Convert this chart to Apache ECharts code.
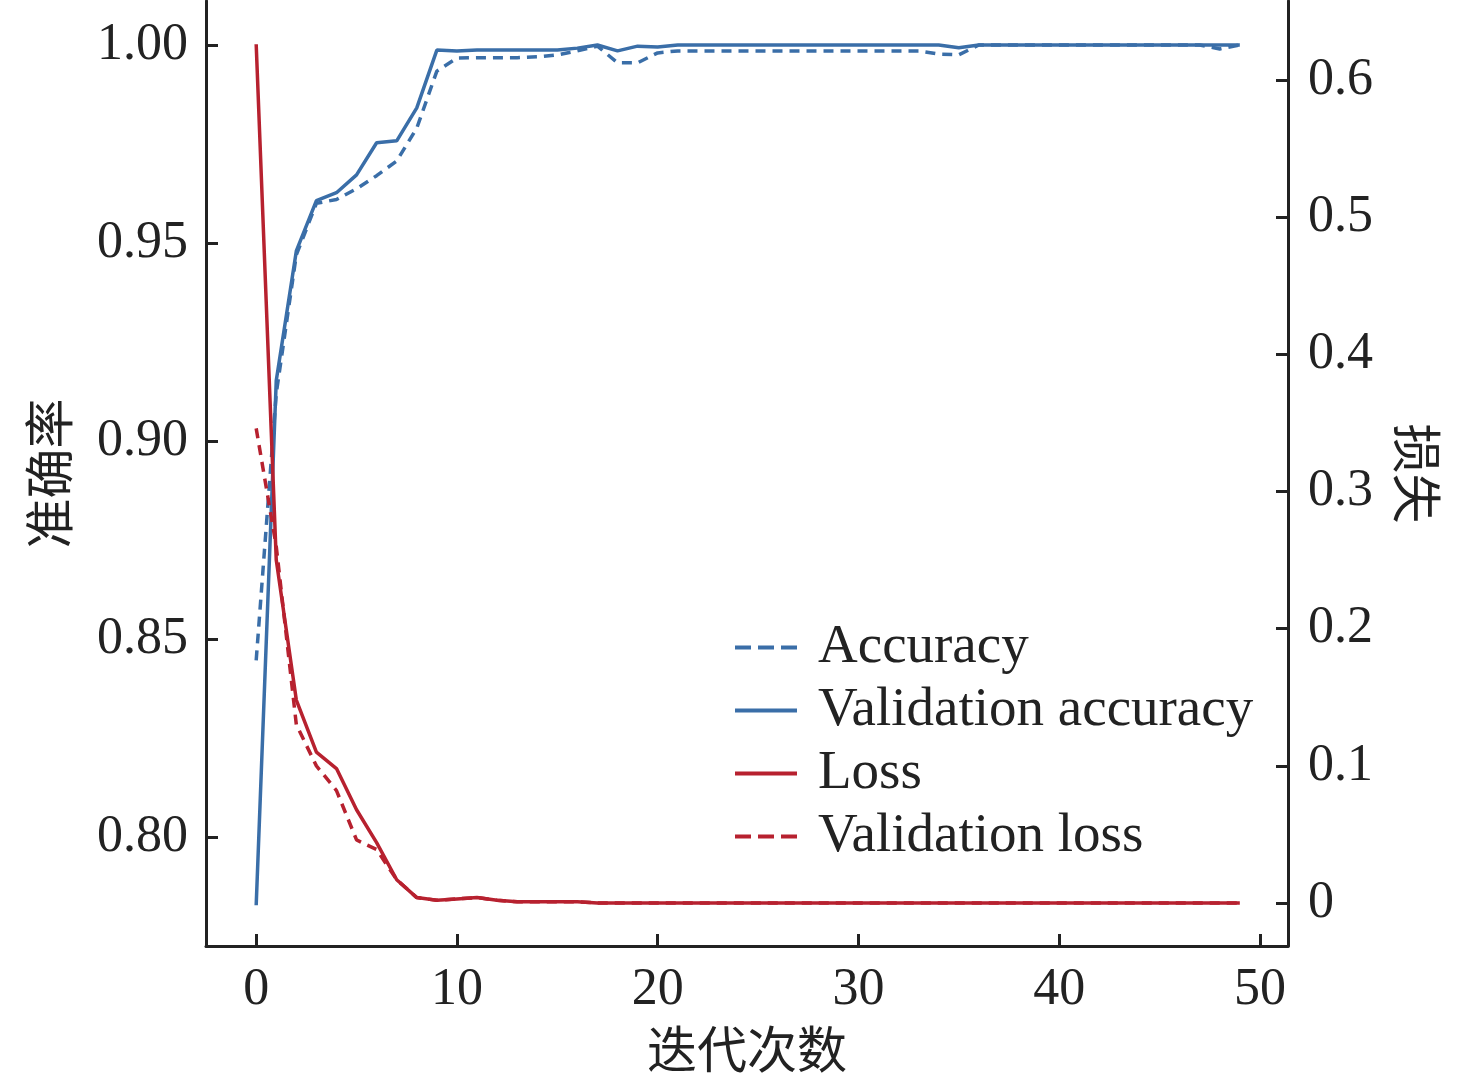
<!DOCTYPE html>
<html>
<head>
<meta charset="utf-8">
<script src="https://cdn.jsdelivr.net/npm/echarts@6/dist/echarts.min.js"></script>
<style>html,body{margin:0;padding:0;background:#fff}#chart{width:1476px;height:1089px}</style>
</head>
<body>
<div id="chart"></div>
<script>
var epochs = [];
for (var i = 0; i < 50; i++) epochs.push(i);

var accuracy = [0.8446, 0.912, 0.947, 0.960, 0.961, 0.9637, 0.967, 0.9707, 0.979, 0.9934,
  0.9967, 0.9968, 0.9968, 0.9968, 0.9970, 0.9975, 0.9985, 0.9997, 0.9955, 0.9955,
  0.998, 0.9985, 0.9985, 0.9985, 0.9985, 0.9985, 0.9985, 0.9985, 0.9985, 0.9985,
  0.9985, 0.9985, 0.9985, 0.9985, 0.9977, 0.9975, 1.0, 1.0, 1.0, 1.0,
  1.0, 1.0, 1.0, 1.0, 1.0, 1.0, 1.0, 1.0, 0.999, 1.0];
var valAccuracy = [0.7828, 0.9153, 0.948, 0.9607, 0.9627, 0.9672, 0.9753, 0.9758, 0.9841, 0.9987,
  0.9985, 0.9987, 0.9987, 0.9987, 0.9987, 0.9987, 0.9992, 1.0, 0.9985, 0.9997,
  0.9995, 1.0, 1.0, 1.0, 1.0, 1.0, 1.0, 1.0, 1.0, 1.0,
  1.0, 1.0, 1.0, 1.0, 1.0, 0.9993, 1.0, 1.0, 1.0, 1.0,
  1.0, 1.0, 1.0, 1.0, 1.0, 1.0, 1.0, 1.0, 1.0, 1.0];
var loss = [0.626, 0.25, 0.148, 0.110, 0.098, 0.068, 0.044, 0.017, 0.004, 0.002,
  0.003, 0.004, 0.002, 0.001, 0.001, 0.001, 0.001, 0.0, 0.0, 0.0,
  0, 0, 0, 0, 0, 0, 0, 0, 0, 0, 0, 0, 0, 0, 0, 0, 0, 0, 0, 0,
  0, 0, 0, 0, 0, 0, 0, 0, 0, 0];
var valLoss = [0.346, 0.26, 0.13, 0.10, 0.082, 0.046, 0.039, 0.017, 0.004, 0.002,
  0.003, 0.004, 0.002, 0.001, 0.001, 0.001, 0.001, 0.0, 0.0, 0.0,
  0, 0, 0, 0, 0, 0, 0, 0, 0, 0, 0, 0, 0, 0, 0, 0, 0, 0, 0, 0,
  0, 0, 0, 0, 0, 0, 0, 0, 0, 0];

var xTicks = [0, 10, 20, 30, 40, 50];
var accTicks = [0.80, 0.85, 0.90, 0.95, 1.00];
var lossTicks = [0, 0.1, 0.2, 0.3, 0.4, 0.5, 0.6];

var BLUE = '#3a6ea8', RED = '#b7212f';
var FONT = 'Liberation Serif';
var CJK = 'Noto Sans CJK SC';
// legend icons: a solid bar and a three-dash bar
var SOLID_ICON = 'path://M0,0h62v4h-62z';
var DASH_ICON = 'path://M0,0h16v4h-16z M23,0h16v4h-16z M46,0h16v4h-16z';

function pairs(ys) { return epochs.map(function (x, i) { return [x, ys[i]]; }); }

function line(name, ys, color, dashed, yIdx) {
  return {
    name: name, type: 'line', yAxisIndex: yIdx, data: pairs(ys),
    symbol: 'none', showSymbol: false, animation: false,
    lineStyle: { color: color, width: 3.5, type: dashed ? [10, 7] : 'solid' },
    itemStyle: { color: color }
  };
}

var axisBase = {
  axisLine: { show: true, onZero: false, lineStyle: { color: '#222', width: 3 } },
  axisTick: { show: true, inside: true, length: 12, lineStyle: { color: '#222', width: 3 } },
  splitLine: { show: false },
  axisLabel: { color: '#222', fontFamily: FONT, fontSize: 52 }
};

var chart = echarts.init(document.getElementById('chart'));
chart.setOption({
  backgroundColor: '#fff',
  grid: { left: 206, right: 188, top: 1, bottom: 143 },
  legend: {
    orient: 'vertical', left: 730, top: 614, itemWidth: 62, itemHeight: 4, itemGap: 6,
    textStyle: { fontFamily: FONT, fontSize: 55, color: '#222', lineHeight: 57, padding: [0, 0, 0, 16] },
    data: [
      { name: 'Accuracy', icon: DASH_ICON },
      { name: 'Validation accuracy', icon: SOLID_ICON },
      { name: 'Loss', icon: SOLID_ICON },
      { name: 'Validation loss', icon: DASH_ICON }
    ]
  },
  xAxis: Object.assign({}, axisBase, {
    type: 'value', min: -2.5, max: 51.4,
    name: '迭代次数', nameLocation: 'middle', nameGap: 78,
    nameTextStyle: { fontFamily: CJK, fontSize: 50, color: '#222' },
    axisTick: Object.assign({}, axisBase.axisTick, { customValues: xTicks }),
    axisLabel: Object.assign({}, axisBase.axisLabel, { customValues: xTicks, margin: 18 })
  }),
  yAxis: [
    Object.assign({}, axisBase, {
      type: 'value', min: 0.7725, max: 1.0111, position: 'left',
      name: '准确率', nameLocation: 'middle', nameGap: 132, nameRotate: 90,
      nameTextStyle: { fontFamily: CJK, fontSize: 50, color: '#222' },
      axisTick: Object.assign({}, axisBase.axisTick, { customValues: accTicks }),
      axisLabel: Object.assign({}, axisBase.axisLabel, {
        customValues: accTicks, margin: 18,
        formatter: function (v) { return v.toFixed(2); }
      })
    }),
    Object.assign({}, axisBase, {
      type: 'value', min: -0.0313, max: 0.6575, position: 'right',
      name: '损失', nameLocation: 'middle', nameGap: 104, nameRotate: -90,
      nameTextStyle: { fontFamily: CJK, fontSize: 50, color: '#222' },
      axisTick: Object.assign({}, axisBase.axisTick, { customValues: lossTicks }),
      axisLabel: Object.assign({}, axisBase.axisLabel, {
        customValues: lossTicks, margin: 20,
        formatter: function (v) { return v === 0 ? '0' : v.toFixed(1); }
      })
    })
  ],
  series: [
    line('Accuracy', accuracy, BLUE, true, 0),
    line('Validation accuracy', valAccuracy, BLUE, false, 0),
    line('Loss', loss, RED, false, 1),
    line('Validation loss', valLoss, RED, true, 1)
  ]
});
</script>
</body>
</html>
